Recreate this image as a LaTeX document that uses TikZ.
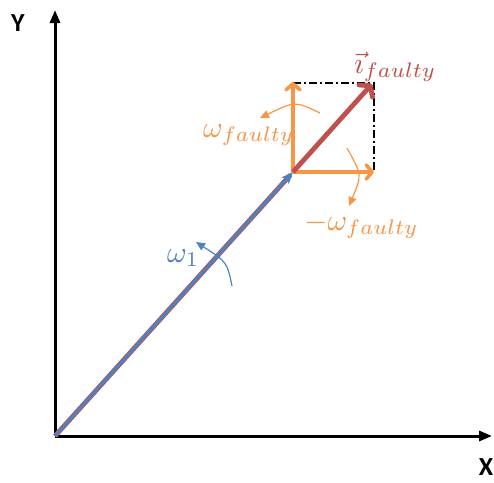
\documentclass[tikz,border=0pt]{standalone}
\usepackage{fontspec}
\newfontfamily\axfont{Carlito}
\usetikzlibrary{arrows.meta}
\definecolor{cblue}{RGB}{79,129,189}
\definecolor{corange}{RGB}{247,150,70}
\definecolor{cred}{RGB}{192,80,77}
\newcommand{\mylbltext}[1]{\scalebox{3}{#1}}
\begin{document}
\begin{tikzpicture}[x=1pt,y=-1pt,
  axis/.style={line width=3pt,-{Triangle[length=13pt,width=10pt]}},
  barb/.style={-{Straight Barb[length=6pt,width=14pt,line cap=round,line join=round]}},
  rot/.style={line width=1.2pt,-{Triangle[length=9pt,width=8pt]}},
  lbl/.style={inner sep=0pt, anchor=base west},
  axlbl/.style={font=\axfont\fontsize{26}{30}\selectfont\bfseries, inner sep=0pt}]
\useasboundingbox (0,0) rectangle (494,482);
\coordinate (O) at (55,436);
\coordinate (P) at (293,172);
\coordinate (Q) at (372,84);
\coordinate (U) at (293,82);
\coordinate (R) at (374,172);
\coordinate (C) at (374,83);
\coordinate (U0) at (293,83);
\coordinate (R0) at (374,172);
\coordinate (Ytop) at (55,10);
\coordinate (Xend) at (492,436);
% axes
\draw[axis] (O) -- (Ytop);
\draw[axis] (O) -- (Xend);
\node[axlbl] (ylab) at (18,23) {Y};
\node[axlbl] (xlab) at (486,467) {X};
% dash-dot box
\draw[dash pattern=on 8pt off 3pt on 2pt off 3pt, line width=1.6pt] (U0) -- (C) -- (R0);
% blue vector with red edge
\draw[line width=4.8pt, cred, shorten >=4pt] (O) -- (P);
\draw[line width=3.2pt, cblue, -{Stealth[length=12pt,width=10pt]}] (O) -- (P);
% orange components
\draw[barb, corange, line width=3.6pt] (P) -- (U);
\draw[barb, corange, line width=3.6pt] (P) -- (R);
% red vector
\draw[cred, line width=4.8pt, -{Straight Barb[length=7pt,width=18pt,line cap=round,line join=round]}] (P) -- (Q);
% rotation arrows
\coordinate (a1s) at (232,286);
\coordinate (a1e) at (196,242);
\draw[rot, cblue] (a1s) .. controls (227,262) .. (a1e);
\coordinate (a2s) at (320,113);
\coordinate (a2e) at (260,118);
\draw[rot, corange] (a2s) .. controls (295,101) .. (a2e);
\coordinate (a3s) at (347,148);
\coordinate (a3e) at (349,206);
\draw[rot, corange] (a3s) .. controls (362,175) .. (a3e);
% labels
\node[lbl, text=cblue] (w1) at (167,262) {\mylbltext{$\omega_1$}};
\node[lbl, text=corange] (wf) at (203,137) {\mylbltext{$\omega_{faulty}$}};
\node[lbl, text=corange] (mwf) at (304,230) {\mylbltext{$-\omega_{faulty}$}};
\node[lbl, text=cred] (ifl) at (354,73) {\mylbltext{$\vec{\imath}_{faulty}$}};
\end{tikzpicture}
\end{document}
